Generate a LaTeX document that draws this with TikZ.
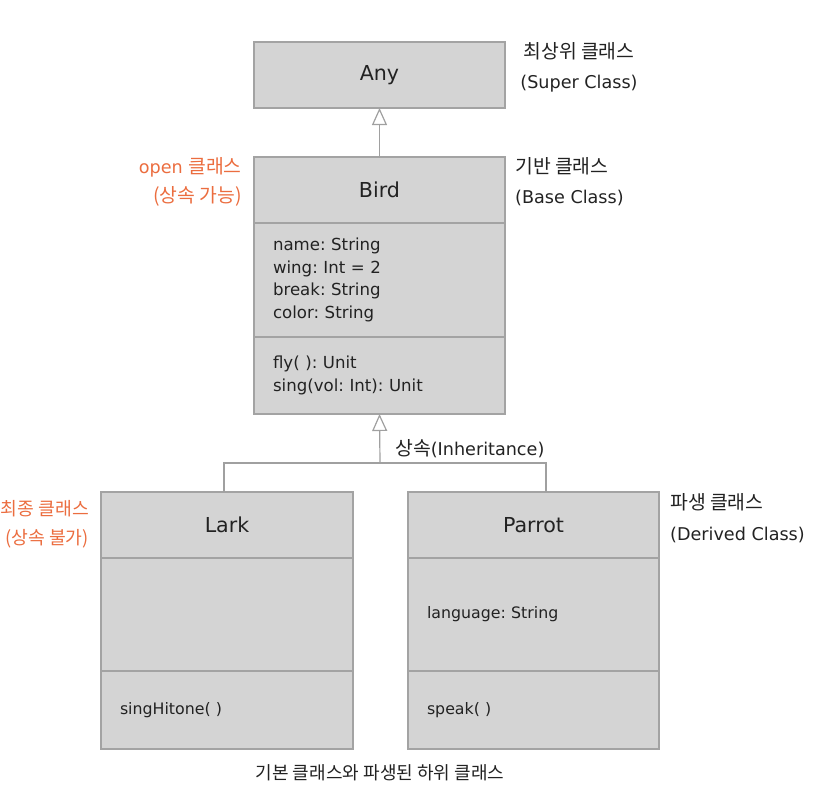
\documentclass[tikz,border=0pt]{standalone}
\usepackage{fontspec}
\setmainfont{DejaVu Sans}
\newfontfamily\krfont{Noto Sans CJK KR}[Scale=1.1]
\newcommand\kr[1]{{\krfont #1}}
\frenchspacing
\usetikzlibrary{arrows.meta}
\definecolor{boxfill}{HTML}{D4D4D4}
\definecolor{boxline}{HTML}{A3A3A3}
\definecolor{conn}{HTML}{A0A0A0}
\definecolor{txt}{HTML}{222222}
\definecolor{orng}{HTML}{EB6D3F}
\tikzset{
  compart/.style={draw=boxline, fill=boxfill, line width=1.3pt, inner xsep=19pt, inner ysep=0pt,
    outer sep=0pt, anchor=north west, text=txt},
  titletext/.style={font=\fontsize{20.6}{24}\selectfont, align=center},
  membertext/.style={font=\fontsize{16.6}{22.7}\selectfont, align=left},
  submembertext/.style={font=\fontsize{15.8}{22.7}\selectfont, align=left},
  lbl/.style={font=\fontsize{17.6}{30.5}\selectfont, text=txt, inner sep=0pt},
  olbl/.style={font=\fontsize{17.6}{29}\selectfont, text=orng, inner sep=0pt, align=right, anchor=east},
  inh/.style={draw=conn, line width=1.2pt, -{Triangle[length=17pt,width=15pt,fill=white,line width=1.2pt]}},
  link/.style={draw=conn, line width=1.2pt}
}
\begin{document}
\begin{tikzpicture}[x=1pt,y=-1pt]
\useasboundingbox (0,0) rectangle (832,798);
% Any
\node[compart, titletext, minimum width=251pt, minimum height=66pt, text width=213pt] (any) at (254,42) {\raisebox{-2pt}{Any}};
% Bird
\node[compart, titletext, minimum width=251pt, minimum height=66pt, text width=213pt] (birdtitle) at (254,157) {Bird};
\node[compart, membertext, minimum width=251pt, minimum height=114pt, text width=213pt] (birdattr) at (254,223)
  {name: String\\wing: Int = 2\\break: String\\color: String};
\node[compart, membertext, minimum width=251pt, minimum height=77pt, text width=213pt] (birdops) at (254,337)
  {fly( ): Unit\\sing(vol: Int): Unit};
% Lark
\node[compart, titletext, minimum width=252pt, minimum height=66pt, text width=214pt] (larktitle) at (101,492) {Lark};
\node[compart, submembertext, minimum width=252pt, minimum height=113pt, text width=214pt] (larkattr) at (101,558) {};
\node[compart, submembertext, minimum width=252pt, minimum height=78pt, text width=214pt] (larkops) at (101,671) {singHitone( )};
% Parrot
\node[compart, titletext, minimum width=251pt, minimum height=66pt, text width=213pt] (parrottitle) at (408,492) {Parrot};
\node[compart, submembertext, minimum width=251pt, minimum height=113pt, text width=213pt] (parrotattr) at (408,558) {language: String};
\node[compart, submembertext, minimum width=251pt, minimum height=78pt, text width=213pt] (parrotops) at (408,671) {speak( )};
% connectors
\draw[inh] (birdtitle.north) -- (any.south);
\coordinate (split) at (380,463);
\draw[inh] (split) -- (birdops.south);
\draw[link] ([xshift=-3pt]larktitle.north) |- (split) -| ([xshift=12.5pt]parrottitle.north);
\node[lbl, anchor=west] (inhlbl) at (395,449) {\kr{상속}(Inheritance)};
% side labels
\node[lbl, align=center, anchor=center] (superlbl) at (579,67.5) {\kr{최상위 클래스}\\(Super Class)};
\node[lbl, align=left, anchor=west] (baselbl) at (515,181.5) {\kr{기반 클래스}\\(Base Class)};
\node[lbl, align=left, anchor=west] (derivedlbl) at (670,518) {\kr{파생 클래스}\\(Derived Class)};
\node[olbl] (openlbl) at (242,182) {open \kr{클래스}\\\kr{(상속 가능)}};
\node[olbl, font=\fontsize{16.6}{29}\selectfont] (finallbl) at (89,524.5) {\kr{최종 클래스}\\\kr{(상속 불가)}};
% caption
\node[lbl, font=\fontsize{16.4}{18}\selectfont, anchor=center] (caption) at (380,773) {\kr{기본 클래스와 파생된 하위 클래스}};
\end{tikzpicture}
\end{document}
